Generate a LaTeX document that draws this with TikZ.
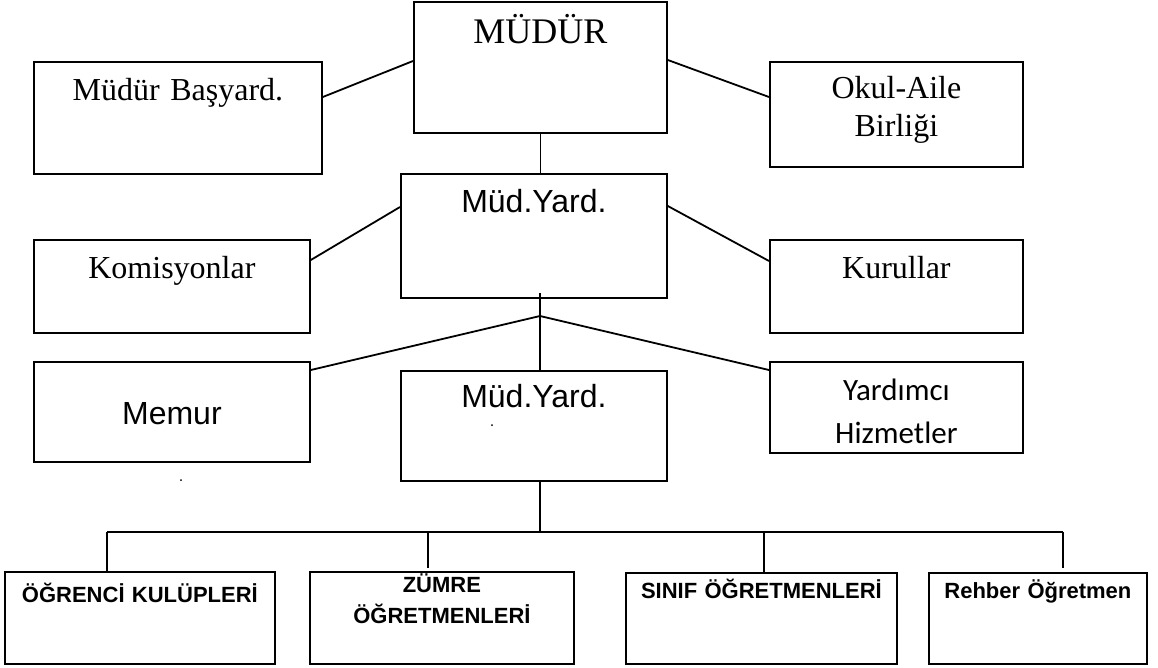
\documentclass[tikz,border=0pt]{standalone}
\usepackage{fontspec}
\usepackage{tikz}
\usetikzlibrary{positioning, calc}
\setmainfont{Liberation Serif}
\setsansfont{Liberation Sans}
\newfontfamily\calibrifont{Carlito}
\newcommand\topserif{\fontsize{36}{40}\selectfont}
\newcommand\boxserif{\fontsize{32}{38}\selectfont}
\newcommand\boxsans{\sffamily\fontsize{32}{38}\selectfont}
\newcommand\boxcalib{\calibrifont\fontsize{31}{43}\selectfont}
\newcommand\unitfont{\sffamily\bfseries\fontsize{22}{31}\selectfont}

\tikzset{
  orgbox/.style n args={3}{draw, line width=1.8pt, inner sep=0pt, anchor=north west,
    align=center, text width=#1, text height=#2, text depth=#3},
  link/.style={line width=1.8pt},
}

\begin{document}
\begin{tikzpicture}[x=1pt, y=-1pt]
  \useasboundingbox (0,0) rectangle (1158,667);

  % top row
  \node[orgbox={253pt}{42pt}{89pt}, font=\topserif] (mudur) at (413,1) {MÜDÜR};
  \node[orgbox={288pt}{39pt}{73pt}, font=\boxserif] (basyard) at (33,61) {Müdür Başyard.};
  \node[orgbox={253pt}{37pt}{68pt}, font=\boxserif] (okul) at (769,61) {Okul-Aile\\Birliği};

  % middle rows
  \node[orgbox={266pt}{39pt}{85pt}, font=\boxsans] (yard1) at (400,173) {Müd.Yard.};
  \node[orgbox={276pt}{39pt}{54pt}, font=\boxserif] (komis) at (33,239) {Komisyonlar};
  \node[orgbox={253pt}{39pt}{54pt}, font=\boxserif] (kurul) at (769,239) {Kurullar};

  \node[orgbox={276pt}{63pt}{37pt}, font=\boxsans] (memur) at (33,361) {Memur};
  \node[orgbox={266pt}{37pt}{73pt}, font=\boxsans] (yard2) at (400,370) {Müd.Yard.};
  \node[orgbox={253pt}{39pt}{52pt}, font=\boxcalib] (yardimci) at (769,361) {Yardımcı\\Hizmetler};

  \fill (492,425) circle (1pt);
  \fill (181,480) circle (1pt);

  % bottom row
  \node[orgbox={270pt}{31pt}{61pt}, font=\unitfont] (ogr) at (4,571) {ÖĞRENCİ KULÜPLERİ};
  \node[orgbox={264pt}{21pt}{71pt}, font=\unitfont] (zumre) at (309,571) {ZÜMRE\\ÖĞRETMENLERİ};
  \node[orgbox={271pt}{26pt}{65pt}, font=\unitfont] (sinif) at (625,572) {SINIF ÖĞRETMENLERİ};
  \node[orgbox={218pt}{26pt}{65pt}, font=\unitfont] (rehber) at (928,572) {Rehber Öğretmen};

  % connectors
  \draw[link] ([yshift=-36pt]basyard.north east) -- ([yshift=-60pt]mudur.north west);
  \draw[link] ([yshift=-59pt]mudur.north east) -- ([yshift=-36pt]okul.north west);
  \draw[link] (mudur.south) -- (mudur.south |- yard1.north);
  \draw[link] ([yshift=-34pt]yard1.north west) -- ([yshift=-21pt]komis.north east);
  \draw[link] ([yshift=-33pt]yard1.north east) -- ([yshift=-22pt]kurul.north west);

  \coordinate (splittop) at (540,293);
  \coordinate (split) at (540,316);
  \draw[link] (splittop) -- (splittop |- yard2.north);
  \draw[link] (split) -- ([yshift=-9pt]memur.north east);
  \draw[link] (split) -- ([yshift=-9pt]yardimci.north west);

  \coordinate (bus) at (540,532);
  \coordinate (busL) at (107,532);
  \coordinate (busR) at (1063,532);
  \coordinate (dropZ) at (428,532);
  \coordinate (dropS) at (764,532);
  \draw[link] (bus |- yard2.south) -- (bus);
  \draw[link] (busL) -- (busR);
  \draw[link] (busL) -- (busL |- ogr.north);
  \draw[link, shorten >=3pt] (dropZ) -- (dropZ |- zumre.north);
  \draw[link] (dropS) -- (dropS |- sinif.north);
  \draw[link, shorten >=4pt] (busR) -- (busR |- rehber.north);
\end{tikzpicture}
\end{document}
